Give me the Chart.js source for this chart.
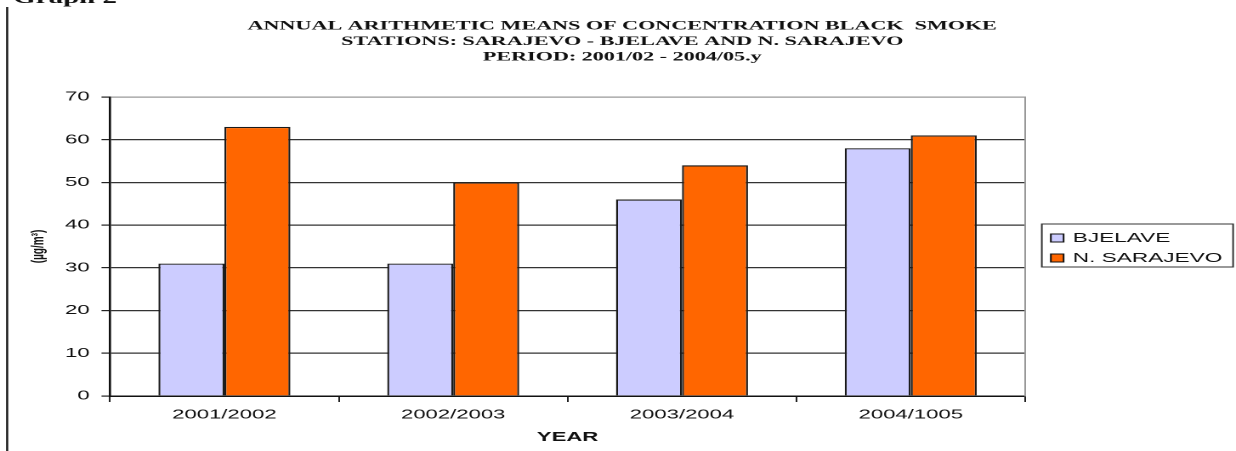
<!DOCTYPE html>
<html><head><meta charset="utf-8">
<script src="https://cdn.jsdelivr.net/npm/chart.js@4"></script>
<style>
html,body{margin:0;padding:0;background:#fff;overflow:hidden;width:1236px;height:451px;}
#wrap{position:absolute;left:0;top:0;width:727px;height:451px;transform:scaleX(1.7001);transform-origin:0 0;}
</style></head><body>
<div id="wrap"><canvas id="c" width="727" height="451" style="width:727px;height:451px"></canvas></div>
<script>
const categories = ['2001/2002', '2002/2003', '2003/2004', '2004/1005'];
const bjelave = [31, 31, 46, 58];
const nSarajevo = [63, 50, 54, 61];
const seriesNames = ['BJELAVE', 'N. SARAJEVO'];
const seriesColors = ['#CCCCFF', '#FF6600'];
const yTicks = [0, 10, 20, 30, 40, 50, 60, 70];
const titleLines = [
  'ANNUAL ARITHMETIC MEANS OF CONCENTRATION BLACK  SMOKE',
  'STATIONS: SARAJEVO - BJELAVE AND N. SARAJEVO',
  'PERIOD: 2001/02 - 2004/05.y'
];
const yTitle = '(\u00b5g/m\u00b3)';
const xTitle = 'YEAR';
const pageHeading = 'Graph 2';

const SANS = '"Liberation Sans", Arial, sans-serif';
const SERIF = '"Liberation Serif", "Times New Roman", serif';

const decor = {
  id: 'decor',
  beforeDraw(chart) {
    const ctx = chart.ctx;
    ctx.save();
    ctx.fillStyle = '#fff';
    ctx.fillRect(0, 0, chart.width, chart.height);
    ctx.restore();
  },
  afterDraw(chart) {
    const ctx = chart.ctx;
    ctx.save();
    // left frame line
    ctx.strokeStyle = '#111';
    ctx.lineWidth = 1.2;
    ctx.beginPath(); ctx.moveTo(4.2, 7); ctx.lineTo(4.2, chart.height); ctx.stroke();
    // clipped page heading
    ctx.fillStyle = '#111';
    ctx.font = 'bold 17px ' + SERIF;
    ctx.textBaseline = 'alphabetic';
    ctx.fillText(pageHeading, 7.8, 3);
    // legend box
    ctx.strokeStyle = '#333';
    ctx.lineWidth = 1;
    ctx.strokeRect(612.8, 224, 112.5, 43);
    ctx.font = '13.3px ' + SANS;
    ctx.textBaseline = 'middle';
    chart.data.datasets.forEach((ds, i) => {
      const cy = 238 + i * 20;
      ctx.fillStyle = ds.backgroundColor;
      ctx.fillRect(618.1, cy - 4, 7.5, 8);
      ctx.strokeStyle = '#111';
      ctx.strokeRect(618.1, cy - 4, 7.5, 8);
      ctx.fillStyle = '#111';
      ctx.fillText(ds.label, 631, cy + 0.5);
    });
    ctx.restore();
  }
};

new Chart(document.getElementById('c'), {
  type: 'bar',
  data: {
    labels: categories,
    datasets: [
      { label: seriesNames[0], data: bjelave, backgroundColor: seriesColors[0], borderColor: '#1a1a1a', borderWidth: 1.2, categoryPercentage: 0.577, barPercentage: 1 },
      { label: seriesNames[1], data: nSarajevo, backgroundColor: seriesColors[1], borderColor: '#1a1a1a', borderWidth: 1.2, categoryPercentage: 0.577, barPercentage: 1 }
    ]
  },
  options: {
    responsive: false,
    devicePixelRatio: 2,
    animation: false,
    layout: { padding: { left: 12, right: 7, top: 0, bottom: 0 } },
    plugins: {
      legend: { display: false },
      tooltip: { enabled: false },
      title: {
        display: true,
        text: titleLines,
        color: '#111',
        font: { family: SERIF, size: 13, weight: 'bold', lineHeight: 1.19 },
        padding: { top: 18.25, bottom: 32.3 }
      }
    },
    scales: {
      x: {
        offset: true,
        grid: { display: true, drawOnChartArea: false, drawTicks: true, tickLength: 6, tickColor: '#222', offset: true },
        border: { display: true, color: '#111', width: 1.5 },
        ticks: { padding: 5, color: '#111', font: { family: SANS, size: 13 } },
        title: { display: true, text: xTitle, color: '#111', font: { family: SANS, size: 13, weight: 'bold' }, padding: { top: 0, bottom: 6 } },
        afterFit(scale) { scale.height = 55; }
      },
      y: {
        min: 0, max: 70,
        afterBuildTicks(scale) { scale.ticks = yTicks.map(v => ({ value: v })); },
        ticks: { padding: 7, color: '#111', font: { family: SANS, size: 13 } },
        grid: {
          color: c => (c.tick && c.tick.value === 70) ? '#9a9a9a' : '#333',
          lineWidth: 1.2, tickLength: 5, tickColor: '#222', drawTicks: true
        },
        border: { display: true, color: '#111', width: 1.3 },
        title: { display: true, text: yTitle, color: '#111', font: { family: SANS, size: 10, weight: 'bold' }, padding: { top: 4.5, bottom: 0 } },
        afterFit(scale) { scale.width = 52.7; }
      },
      y2: {
        position: 'right',
        display: true,
        ticks: { display: false },
        grid: { display: false, drawTicks: false },
        border: { display: true, color: '#999', width: 1 },
        afterFit(scale) { scale.width = 117; }
      }
    }
  },
  plugins: [decor]
});
</script>
</body></html>
